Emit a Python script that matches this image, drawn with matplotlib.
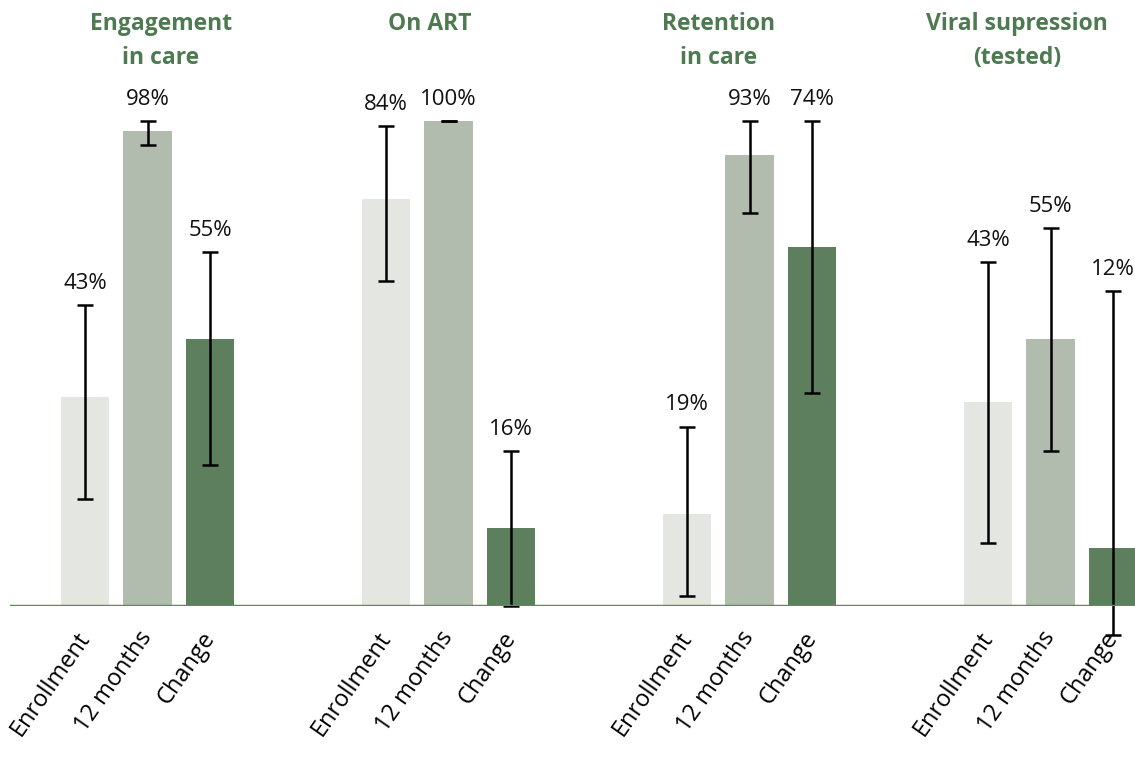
import numpy as np
import matplotlib.pyplot as plt

# --- DATA (percent) ---
groups = ['Engagement\nin care', 'On ART', 'Retention\nin care', 'Viral supression\n(tested)']
bar_names = ['Enrollment', '12 months', 'Change']
enrollment = [43, 84, 19, 42]
twelve_months = [98, 100, 93, 55]
change = [55, 16, 74, 12]
enrollment_lo = [22, 67, 2, 13]
enrollment_hi = [62, 99, 37, 71]
twelve_lo = [95, 100, 81, 32]
twelve_hi = [100, 100, 100, 78]
change_lo = [29, 0, 44, -6]
change_hi = [73, 32, 100, 65]
value_labels = [['43%', '98%', '55%'], ['84%', '100%', '16%'],
                ['19%', '93%', '74%'], ['43%', '55%', '12%']]

colors = ['#E4E6E1', '#B1BCAF', '#5E7F5E']
title_green = '#4E7A52'

plt.rcParams['font.family'] = ['Open Sans', 'DejaVu Sans']

fig = plt.figure(figsize=(11.35, 7.58), dpi=100)
# axes placed in pixels: left at 10px, baseline at 606px from top
ax = fig.add_axes([10 / 1135, 152 / 758, 1125 / 1135, 606 / 758])

group_step = 4.816
series = [enrollment, twelve_months, change]
los = [enrollment_lo, twelve_lo, change_lo]
his = [enrollment_hi, twelve_hi, change_hi]

tick_pos = []
tick_lab = []
for j in range(3):
    x = np.arange(4) * group_step + j
    vals = np.array(series[j])
    lo = np.array(los[j])
    hi = np.array(his[j])
    ax.bar(x, vals, width=0.78, color=colors[j], zorder=2)
    ax.errorbar(x, vals, yerr=[vals - lo, hi - vals], fmt='none',
                ecolor='black', elinewidth=1.8, capsize=6, capthick=1.8,
                zorder=3, clip_on=False)
    for i in range(4):
        ax.annotate(value_labels[i][j], (x[i], hi[i]), xytext=(0, 8),
                    textcoords='offset points', ha='center', va='bottom',
                    fontsize=16, color='#111111', annotation_clip=False)
        tick_pos.append(x[i])
        tick_lab.append(bar_names[j])

ax.axhline(0, color='#5F8A5E', linewidth=2.5, zorder=4)

ax.set_xlim(-1.2, 16.8)
ax.set_ylim(0, 606 / 4.85)
ax.set_xticks(tick_pos)
ax.set_xticklabels(tick_lab, rotation=55, ha='right', va='center',
                   rotation_mode='anchor', fontsize=17)
ax.tick_params(axis='x', length=0, pad=20)
ax.set_yticks([])
for s in ax.spines.values():
    s.set_visible(False)

title_x = [161, 430, 719, 1017]
for t, px in zip(groups, title_x):
    fig.text(px / 1135, 1 - 12 / 758, t, ha='center', va='top',
             fontsize=16.5, fontweight='bold', color=title_green, linespacing=1.55)

fig.savefig('out.png', dpi=100)
